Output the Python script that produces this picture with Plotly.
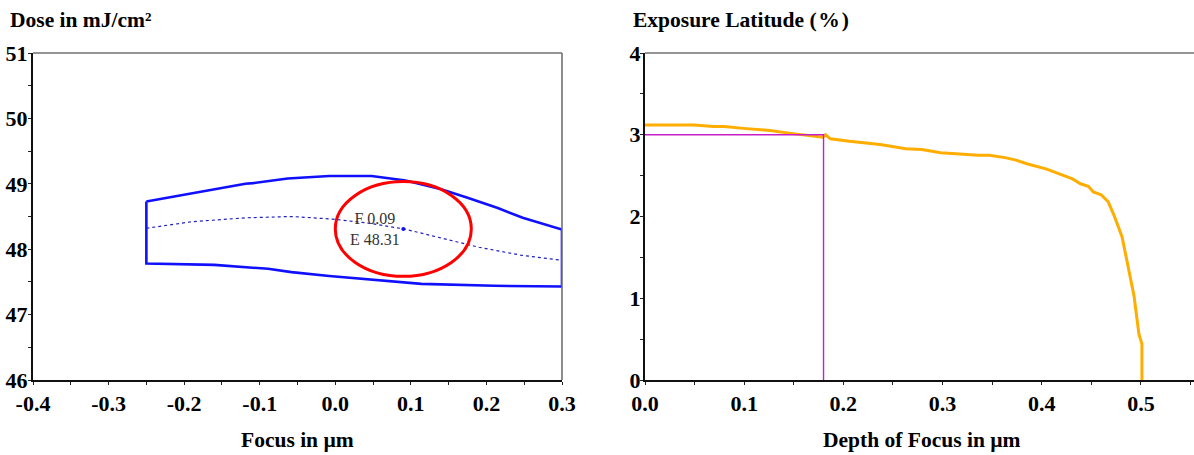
import plotly.graph_objects as go

# ---------------- data: left chart (process window) ----------------
upper_focus = [-0.25, -0.205, -0.16, -0.119, -0.109, -0.063, -0.008, 0.048, 0.093, 0.139, 0.174, 0.215, 0.248, 0.30]
upper_dose = [48.73, 48.82, 48.92, 49.00, 49.01, 49.08, 49.12, 49.12, 49.05, 48.92, 48.79, 48.63, 48.48, 48.30]
lower_focus = [-0.25, -0.225, -0.16, -0.089, -0.058, -0.008, 0.048, 0.114, 0.21, 0.30]
lower_dose = [47.78, 47.78, 47.76, 47.70, 47.65, 47.59, 47.53, 47.47, 47.44, 47.43]
center_focus = [-0.25, -0.19, -0.119, -0.058, -0.003, 0.043, 0.091, 0.139, 0.19, 0.245, 0.30]
center_dose = [48.32, 48.42, 48.48, 48.50, 48.46, 48.40, 48.31, 48.17, 48.03, 47.91, 47.83]

best_focus = 0.09
best_dose = 48.31
window_dof = 0.18      # um
window_el = 3.0        # %

left_xticks = [-0.4, -0.3, -0.2, -0.1, 0.0, 0.1, 0.2, 0.3]
left_xticktext = ["-0.4", "-0.3", "-0.2", "-0.1", "0.0", "0.1", "0.2", "0.3"]
left_yticks = [46, 47, 48, 49, 50, 51]
left_yticktext = ["46", "47", "48", "49", "50", "51"]

# ---------------- data: right chart (EL vs DOF) ----------------
dof = [0.0, 0.0496, 0.069, 0.080, 0.099, 0.126, 0.145, 0.168, 0.179, 0.182, 0.187, 0.206, 0.237,
       0.263, 0.279, 0.298, 0.321, 0.336, 0.347, 0.363, 0.374, 0.385, 0.405, 0.416, 0.431, 0.439,
       0.447, 0.452, 0.460, 0.467, 0.473, 0.481, 0.487, 0.493, 0.498, 0.501, 0.501]
el = [3.118, 3.118, 3.10, 3.10, 3.078, 3.053, 3.02, 2.98, 2.97, 3.00, 2.95, 2.92, 2.88,
      2.83, 2.82, 2.78, 2.76, 2.75, 2.75, 2.72, 2.69, 2.645, 2.58, 2.53, 2.46, 2.40,
      2.37, 2.30, 2.265, 2.18, 2.01, 1.75, 1.40, 1.03, 0.56, 0.44, 0.0]

right_xticks = [0.0, 0.1, 0.2, 0.3, 0.4, 0.5]
right_xticktext = ["0.0", "0.1", "0.2", "0.3", "0.4", "0.5"]
right_yticks = [0, 1, 2, 3, 4]
right_yticktext = ["0", "1", "2", "3", "4"]

# ---------------- figure ----------------
W, H = 1194, 455
FONT = "Liberation Serif, Times New Roman, serif"
BLUE = "#1010ff"

def px_x(p):
    return p / W

def px_y(p):
    return 1 - p / H

def bold(labels):
    return ["<b>" + t + "</b>" for t in labels]

fig = go.Figure()

# process window contour
win_x = upper_focus + lower_focus[::-1] + [upper_focus[0]]
win_y = upper_dose + lower_dose[::-1] + [upper_dose[0]]
fig.add_trace(go.Scatter(x=win_x, y=win_y, mode="lines",
                         line=dict(color=BLUE, width=2.6), xaxis="x", yaxis="y",
                         hoverinfo="skip", showlegend=False))
fig.add_trace(go.Scatter(x=center_focus, y=center_dose, mode="lines",
                         line=dict(color="#2020c0", width=1.2, dash="dot"), xaxis="x", yaxis="y",
                         showlegend=False))
fig.add_trace(go.Scatter(x=[best_focus], y=[best_dose], mode="markers",
                         marker=dict(color=BLUE, size=4), xaxis="x", yaxis="y", showlegend=False))

# EL vs DOF curve
fig.add_trace(go.Scatter(x=dof, y=el, mode="lines", line=dict(color="#ffad00", width=3),
                         xaxis="x2", yaxis="y2", showlegend=False))
# marker lines for chosen window
fig.add_trace(go.Scatter(x=[0, window_dof, window_dof], y=[window_el, window_el, 0], mode="lines",
                         line=dict(color="#c81ec8", width=1.4), xaxis="x2", yaxis="y2",
                         showlegend=False))

half_dose = best_dose * window_el / 200.0
half_focus = window_dof / 2.0
shapes = [
    dict(type="circle", xref="x", yref="y",
         x0=best_focus - half_focus, x1=best_focus + half_focus,
         y0=best_dose - half_dose, y1=best_dose + half_dose,
         line=dict(color="#ff0000", width=3)),
    # frame lines (top/right) in gray
    dict(type="line", xref="x domain", yref="y domain", x0=0, x1=1, y0=1, y1=1,
         line=dict(color="#707070", width=1.6)),
    dict(type="line", xref="x domain", yref="y domain", x0=1, x1=1, y0=0, y1=1,
         line=dict(color="#707070", width=1.6)),
    dict(type="line", xref="x2 domain", yref="y2 domain", x0=0, x1=1, y0=1, y1=1,
         line=dict(color="#707070", width=1.6)),
]

tickfont = dict(family=FONT, size=22, color="black")
axis_common = dict(showgrid=False, zeroline=False, showline=True, linecolor="#111111",
                   linewidth=2, ticks="outside", ticklen=3, tickcolor="#222222",
                   tickfont=tickfont, fixedrange=True, automargin=False)
minor = dict(ticks="outside", ticklen=3, tickcolor="#222222")

y_dom = [px_y(380), px_y(53)]
fig.update_layout(
    width=W, height=H, autosize=False,
    margin=dict(l=0, r=0, t=0, b=0, pad=0),
    paper_bgcolor="white", plot_bgcolor="white",
    showlegend=False,
    xaxis=dict(domain=[px_x(33), px_x(562)], range=[-0.4, 0.3], tickvals=left_xticks,
               ticktext=bold(left_xticktext), anchor="y", minor=dict(dtick=0.05, **minor),
               **axis_common),
    yaxis=dict(domain=y_dom, range=[46, 51], tickvals=left_yticks,
               ticktext=bold(left_yticktext), anchor="x", minor=dict(dtick=0.5, **minor),
               ticklabelstandoff=-4, **axis_common),
    xaxis2=dict(domain=[px_x(645), 1.0], range=[0, 0.5535], tickvals=right_xticks,
                ticktext=bold(right_xticktext), anchor="y2", minor=dict(dtick=0.05, **minor),
                **axis_common),
    yaxis2=dict(domain=y_dom, range=[0, 4], tickvals=right_yticks,
                ticktext=bold(right_yticktext), anchor="x2", minor=dict(dtick=0.5, **minor),
                ticklabelstandoff=-5, **axis_common),
    shapes=shapes,
)

title_font = dict(family=FONT, size=21.5, color="black")
annotations = [
    dict(text="<b>Dose in mJ/cm²</b>", xref="paper", yref="paper", x=px_x(8), y=px_y(20),
         xanchor="left", yanchor="middle", showarrow=False, font=title_font),
    dict(text="<b>Exposure Latitude (\u200a%\u200a)</b>", xref="paper", yref="paper",
         x=px_x(631), y=px_y(20),
         xanchor="left", yanchor="middle", showarrow=False, font=title_font),
    dict(text="<b>Focus in µm</b>", xref="paper", yref="paper", x=px_x(297.5), y=px_y(440),
         xanchor="center", yanchor="middle", showarrow=False, font=title_font),
    dict(text="<b>Depth of Focus in µm</b>", xref="paper", yref="paper", x=px_x(922), y=px_y(440),
         xanchor="center", yanchor="middle", showarrow=False, font=title_font),
    dict(text=f"F {best_focus:.2f}<br>E {best_dose:.2f}", xref="x", yref="y",
         x=best_focus - 0.037, y=best_dose, xanchor="center", yanchor="middle",
         showarrow=False, align="center",
         font=dict(family=FONT, size=16, color="#333333")),
]
fig.update_layout(annotations=annotations)

fig.write_html("out.html", config=dict(displayModeBar=False))
